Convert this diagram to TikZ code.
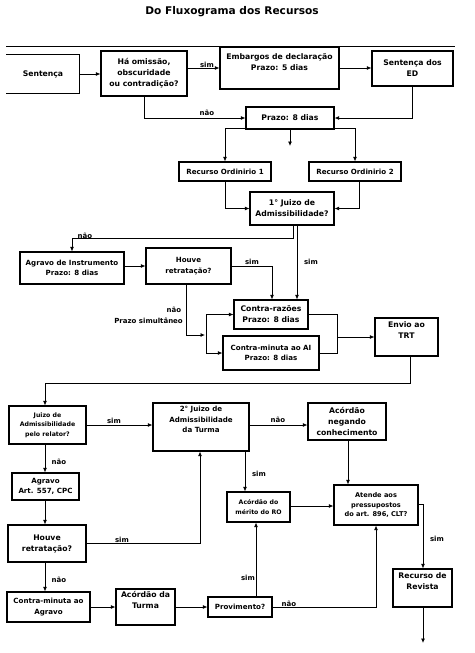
\documentclass[tikz,border=0pt]{standalone}
\usepackage{fontspec}
\setmainfont{DejaVu Sans}
\usetikzlibrary{arrows.meta}
\begin{document}
\begin{tikzpicture}[x=1pt,y=-1pt,
  box/.style={draw, line width=1.1pt, align=center, inner sep=0pt, font=\bfseries\fontsize{7.1}{10.5}\selectfont},
  big/.style={font=\bfseries\fontsize{7.7}{11}\selectfont},
  small/.style={font=\bfseries\fontsize{6.2}{9.5}\selectfont},
  arr/.style={-{Latex[length=4.5pt,width=4pt]}, line width=0.8pt},
  ln/.style={line width=0.8pt},
  lbl/.style={font=\bfseries\fontsize{7}{8}\selectfont, inner sep=0pt}]
\useasboundingbox (0,0) rectangle (474,653);
\node[font=\bfseries\fontsize{10.6}{12}\selectfont] (title) at (232,12) {Do Fluxograma dos Recursos};
\draw[line width=1pt] (6,46) -- (455,46);

% row 1
\node[box, big, draw=none, minimum width=72pt, minimum height=38pt] (sent) at (43,74) {Sentença};
\draw[line width=1.1pt] (sent.north west) -- (sent.north east) -- (sent.south east) -- (sent.south west);
\node[box, big, minimum width=86pt, minimum height=45pt] (omis) at (144,73.5) {Há omissão,\\obscuridade\\ou contradição?};
\node[box, big, minimum width=119pt, minimum height=42pt] (emb) at (279.5,68) {Embargos de declaração\\Prazo: 5 dias\\\mbox{}};
\node[box, big, minimum width=81pt, minimum height=35pt] (sed) at (412.5,68.5) {Sentença dos\\ED};
\node[box, big, minimum width=88pt, minimum height=22pt] (prazo8) at (290,118) {Prazo: 8 dias};

% row 2
\node[box, minimum width=92pt, minimum height=19pt] (ro1) at (225,171.5) {Recurso Ordinirio 1};
\node[box, minimum width=92pt, minimum height=19pt] (ro2) at (355,171.5) {Recurso Ordinirio 2};
\node[box, big, minimum width=84pt, minimum height=33pt] (juizo1) at (292,208.5) {1° Juizo de\\Admissibilidade?};

% row 3
\node[box, minimum width=104pt, minimum height=32pt] (agi) at (72,268) {Agravo de Instrumento\\Prazo: 8 dias};
\node[box, minimum width=85pt, minimum height=36pt] (houve1) at (188.5,266) {Houve\\retratação?};
\node[box, big, minimum width=74pt, minimum height=29pt] (cr) at (271,314.5) {Contra-razões\\Prazo: 8 dias};
\node[box, minimum width=96pt, minimum height=34pt] (cmai) at (271,353) {Contra-minuta ao AI\\Prazo: 8 dias};
\node[box, big, minimum width=63pt, minimum height=38pt] (envio) at (406.5,337) {Envio ao\\TRT\\[3pt]};

% row 4
\node[box, small, minimum width=77pt, minimum height=38pt] (jrel) at (47.5,425) {Juizo de\\Admissibilidade\\pelo relator?};
\node[box, minimum width=96pt, minimum height=48pt] (j2) at (201,427) {2° Juizo de\\Admissibilidade\\da Turma\\[4pt]};
\node[box, big, minimum width=78pt, minimum height=37pt] (acneg) at (347,421.5) {Acórdão\\negando\\conhecimento};
\node[box, minimum width=67pt, minimum height=27pt] (agart) at (45.5,486.5) {Agravo\\Art. 557, CPC};
\node[box, small, minimum width=63pt, minimum height=30pt] (amerito) at (258.5,507) {Acórdão do\\mérito do RO};
\node[box, small, font=\bfseries\fontsize{6.6}{9.5}\selectfont, minimum width=84pt, minimum height=40pt] (atende) at (376,505) {Atende aos\\pressupostos\\do art. 896, CLT?};

% row 5
\node[box, big, minimum width=78pt, minimum height=37pt] (houve2) at (47,543.5) {Houve\\retratação?};
\node[box, minimum width=83pt, minimum height=30pt] (cmag) at (48.5,607) {Contra-minuta ao\\Agravo};
\node[box, big, minimum width=59pt, minimum height=36pt] (acturma) at (145.5,607) {Acórdão da\\Turma\\[3pt]};
\node[box, minimum width=64pt, minimum height=20pt] (prov) at (240,607) {Provimento?};
\node[box, big, minimum width=59pt, minimum height=38pt] (rr) at (422.5,588) {Recurso de\\Revista\\[3pt]};
\coordinate (rrend) at (423,643);
\coordinate (dang) at (290,146);
\coordinate (br) at (206,335);
\coordinate (mj) at (337,337);

% connectors row 1
\draw[arr] (sent.east) -- (sent.east -| omis.west);
\draw[arr] (omis.east |- emb.west) -- (emb.west);
\draw[arr] (emb.east) -- (emb.east -| sed.west);
\draw[arr] (omis.south) |- (prazo8.west);
\draw[arr] (sed.south) |- (prazo8.east);
\node[lbl] (l1) at (207,65) {sim};
\node[lbl] (l2) at (207,113) {não};

% row 2
\draw[arr] ([yshift=1pt]prazo8.south west) -| (ro1.north);
\draw[arr] ([yshift=1pt]prazo8.south east) -| (ro2.north);
\draw[arr] (prazo8.south) -- (dang);
\draw[arr] (ro1.south) |- (juizo1.west);
\draw[arr] ([xshift=4pt]ro2.south) |- (juizo1.east);

% row 3
\draw[arr] ([xshift=1pt]juizo1.south) -- ++(0,13) -| (agi.north);
\draw[arr] ([xshift=5pt]juizo1.south) -- ([xshift=5pt]juizo1.south |- cr.north);
\node[lbl] (l3) at (85,236) {não};
\node[lbl] (l4) at (311,262) {sim};
\draw[arr] (agi.east |- houve1.west) -- (houve1.west);
\draw[arr] (houve1.east) -| ([xshift=1pt]cr.north);
\node[lbl] (l5) at (252,262) {sim};
\draw[arr] ([xshift=-2.5pt]houve1.south) |- ([xshift=-1pt]br);
\draw[ln] (br |- cr.west) -- (br |- cmai.west);
\draw[arr] (br |- cr.west) -- (cr.west);
\draw[arr] (br |- cmai.west) -- (cmai.west);
\node[lbl] (l6) at (174,310) {não};
\node[lbl, anchor=east] (l7) at (183,321) {Prazo simultâneo};
\draw[ln] (cr.east) -| (mj);
\draw[ln] (cmai.east) -| (mj);
\draw[arr] (mj) -- (mj -| envio.west);

% row 4
\draw[arr] ([xshift=3.5pt]envio.south) -- ++(0,27) -| ([xshift=-2.5pt]jrel.north);
\draw[arr] (jrel.east) -- (jrel.east -| j2.west);
\node[lbl] (l8) at (114,421) {sim};
\draw[arr] (jrel.east -| j2.east) -- (jrel.east -| acneg.west);
\node[lbl] (l9) at (278,420) {não};
\draw[arr] ([xshift=1pt]acneg.south) -- ([xshift=1pt]acneg.south |- atende.north);
\draw[arr] ([xshift=44pt]j2.south) -- ([xshift=44pt]j2.south |- amerito.north);
\node[lbl] (l10) at (259,474) {sim};
\draw[arr] ([xshift=-2.5pt]jrel.south) -- ([xshift=-2.5pt]jrel.south |- agart.north);
\node[lbl] (l11) at (59,462) {não};
\draw[arr] (amerito.east |- 0,506) -- (atende.west |- 0,506);

% row 5
\draw[arr] ([xshift=-0.5pt]agart.south) -- ([xshift=-0.5pt]agart.south |- houve2.north);
\draw[arr] (houve2.east) -| ([xshift=-1pt]j2.south);
\node[lbl] (l12) at (122,540) {sim};
\draw[arr] ([xshift=-2pt]houve2.south) -- ([xshift=-2pt]houve2.south |- cmag.north);
\node[lbl] (l13) at (59,580) {não};
\draw[arr] (cmag.east) -- (cmag.east -| acturma.west);
\draw[arr] (acturma.east) -- (acturma.east -| prov.west);
\draw[arr] ([xshift=16pt]prov.north) -- ([xshift=16pt]prov.north |- amerito.south);
\node[lbl] (l14) at (248,578) {sim};
\draw[arr] (prov.east) -| (atende.south);
\node[lbl] (l15) at (289,604) {não};
\draw[arr] ([yshift=1pt]atende.east) -| ([xshift=0.5pt]rr.north);
\node[lbl] (l16) at (437,539) {sim};
\draw[arr] ([xshift=0.5pt]rr.south) -- (rrend);
\end{tikzpicture}
\end{document}
